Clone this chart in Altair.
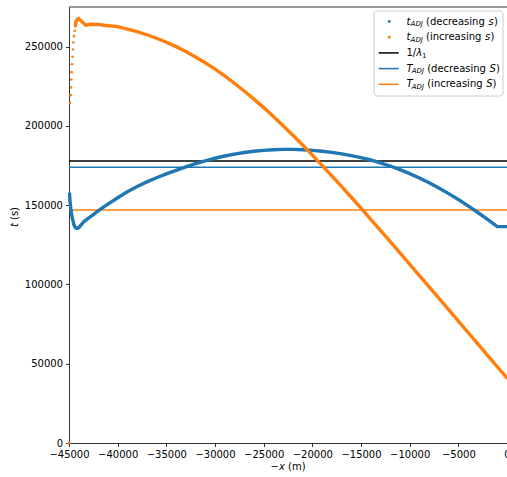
import altair as alt
import pandas as pd

FONT = "DejaVu Sans"
BLUE = "#1f77b4"
ORANGE = "#ff7f0e"

# ---- series: t_ADJ (decreasing s) ----
dec_x = [-44950, -44900, -44830, -44750, -44660, -44500, -44350, -44200, -44000, -43800,
         -43470, -43000, -42500, -42000, -41500, -41000,
         -40000, -39000, -38000, -37000, -36000, -35000, -34000, -33000, -32000, -31000,
         -30000, -29000, -28000, -27000, -26000, -25000, -24000, -23000, -22000, -21000,
         -20000, -19000, -18000, -17000, -16000, -15000, -14000, -13000, -12000, -11000,
         -10000, -9000, -8000, -7000, -6000, -5000, -4000, -3000, -2000, -1000, 0]
dec_t = [157500, 153000, 148500, 145000, 142000, 137800, 135800, 135400, 135800, 137200,
         139600, 141800, 144000, 146400, 148600, 150700,
         154700, 158500, 161800, 164700, 167300, 169700, 172000, 174200, 176200, 178000,
         179600, 181000, 182200, 183200, 184000, 184600, 185000, 185200, 185200, 185000,
         184600, 184000, 183300, 182400, 181300, 180000, 178500, 176700, 174700, 172400,
         169900, 167100, 164100, 160800, 157300, 153600, 149600, 145400, 141000, 136500, 136500]

# ---- series: t_ADJ (increasing s) ----
inc_x = [-45000, -44900, -44830, -44800, -44770, -44730, -44690, -44630, -44590, -44560,
         -44490, -44420, -44350, -44290, -44150, -44010, -43640, -43270, -42790, -42000, -41420,
         -40000, -39000, -38000, -37000, -36000, -35000, -34000, -33000, -32000, -31000,
         -30000, -29000, -28000, -27000, -26000, -25000, -24000, -23000, -22000, -21000,
         -20000, -19000, -18000, -17000, -16000, -15000, -14000, -13000, -12000, -11000,
         -10000, -9000, -8000, -7000, -6000, -5000, -4000, -3000, -2000, -1000, 0]
inc_t = [0, 214600, 219400, 224300, 229300, 233900, 238900, 243600, 248200, 252600,
         256600, 260000, 262900, 265600, 267300, 267700, 265600, 263500, 264100, 264000, 263500,
         262600, 261100, 259400, 257500, 255300, 252800, 250000, 246900, 243500, 239800,
         235800, 231500, 226900, 222000, 216900, 211550, 205950, 200150, 194150, 187950,
         181600, 175100, 168500, 161800, 155000, 148100, 141100, 134050, 126950, 119850,
         112750, 105600, 98450, 91300, 84100, 76900, 69700, 62500, 55300, 48100, 40900]

# ---- horizontal reference levels ----
h_names = ["1/lambda_1", "T_ADJ (decreasing S)", "T_ADJ (increasing S)"]
h_values = [177800, 174000, 147000]
h_colors = ["black", BLUE, ORANGE]

series_names = ["dec", "inc"]
series_colors = [BLUE, ORANGE]

x_ticks = [-45000, -40000, -35000, -30000, -25000, -20000, -15000, -10000, -5000, 0]
y_ticks = [0, 50000, 100000, 150000, 200000, 250000]

df = pd.concat([
    pd.DataFrame({"x": dec_x, "t": dec_t, "series": "dec"}),
    pd.DataFrame({"x": inc_x, "t": inc_t, "series": "inc"}),
], ignore_index=True)
hdf = pd.DataFrame({"name": h_names, "t": h_values, "c": h_colors})
one = pd.DataFrame({"k": [0]})

W, H = 438, 436

xsc = alt.Scale(domain=[-45000, 0], nice=False, zero=False)
ysc = alt.Scale(domain=[0, 275000], nice=False)
xax = alt.Axis(values=x_ticks, format="d", title=None, grid=False,
               labelFlush=False, labelOverlap=False)
yax = alt.Axis(values=y_ticks, format="d", title=None, grid=False, labelOverlap=False)

X = alt.X("x:Q", scale=xsc, axis=xax)
Y = alt.Y("t:Q", scale=ysc, axis=yax)
C = alt.Color("series:N", scale=alt.Scale(domain=series_names, range=series_colors), legend=None)

rules = alt.Chart(hdf).mark_rule(strokeWidth=1.5).encode(
    y=Y, stroke=alt.Stroke("c:N", scale=None))

lines = alt.Chart(df).transform_filter(
    "datum.series == 'dec' || datum.x > -44400"
).mark_line(strokeWidth=3.4).encode(x=X, y=Y, color=C, detail="series:N")

pts = alt.Chart(df).mark_circle(size=7, opacity=1).encode(x=X, y=Y, color=C)

top_spine = alt.Chart(one).mark_rule(color="black", strokeWidth=0.8).encode(
    x=alt.value(0), x2=alt.value(W), y=alt.value(0))


def txt(s, px, py, size=10, italic=False, angle=0):
    return alt.Chart(one).mark_text(
        text=s, font=FONT, fontSize=size, fontStyle="italic" if italic else "normal",
        align="left", baseline="middle", angle=angle, color="black"
    ).encode(x=alt.value(px), y=alt.value(py))


# legend (matplotlib-style box)
box = alt.Chart(one).mark_rect(
    fill="white", fillOpacity=0.8, stroke="#cccccc", strokeWidth=1, cornerRadius=3
).encode(x=alt.value(305), x2=alt.value(434), y=alt.value(4), y2=alt.value(89))

rows = [14.5, 30.2, 45.9, 61.6, 77.3]
sym = []
sym.append(alt.Chart(one).mark_circle(size=8, opacity=1, color=BLUE).encode(
    x=alt.value(320.3), y=alt.value(rows[0])))
sym.append(alt.Chart(one).mark_circle(size=8, opacity=1, color=ORANGE).encode(
    x=alt.value(320.3), y=alt.value(rows[1])))
for r, c in zip(rows[2:], h_colors):
    sym.append(alt.Chart(one).mark_rule(color=c, strokeWidth=1.5).encode(
        x=alt.value(309.7), x2=alt.value(329.7), y=alt.value(r)))

sub = 7
ltxt = [
    txt("t", 337.5, rows[0], italic=True), txt("ADJ", 341.6, rows[0] + 2.8, size=sub, italic=True),
    txt("(decreasing", 357.0, rows[0]), txt("s", 419.6, rows[0], italic=True), txt(")", 425.0, rows[0]),
    txt("t", 337.5, rows[1], italic=True), txt("ADJ", 341.6, rows[1] + 2.8, size=sub, italic=True),
    txt("(increasing", 357.0, rows[1]), txt("s", 416.0, rows[1], italic=True), txt(")", 421.4, rows[1]),
    txt("1/", 337.5, rows[2]), txt("λ", 347.2, rows[2], italic=True),
    txt("1", 353.1, rows[2] + 2.8, size=sub),
    txt("T", 337.5, rows[3], italic=True), txt("ADJ", 342.8, rows[3] + 2.8, size=sub, italic=True),
    txt("(decreasing", 358.2, rows[3]), txt("S", 420.6, rows[3], italic=True), txt(")", 427.0, rows[3]),
    txt("T", 337.5, rows[4], italic=True), txt("ADJ", 342.8, rows[4] + 2.8, size=sub, italic=True),
    txt("(increasing", 358.2, rows[4]), txt("S", 417.2, rows[4], italic=True), txt(")", 423.6, rows[4]),
]

# axis titles
titles = [
    txt("−", 201.5, 459.7), txt("x", 209.9, 459.7, italic=True),
    txt("(m)", 219.0, 459.7),
    txt("t", -54, 220.0, italic=True, angle=270),
    txt("(s)", -54, 213.0, angle=270),
]

chart = alt.layer(rules, lines, pts, top_spine, box, *sym, *ltxt, *titles).properties(
    width=W, height=H,
    autosize=alt.AutoSizeParams(type="none"),
    padding={"left": 69, "top": 7, "right": 0, "bottom": 34},
).configure_view(stroke=None).configure_axis(
    domainColor="black", domainWidth=0.8, tickColor="black", tickWidth=0.8, tickSize=3.5,
    labelPadding=3, labelFont=FONT, labelFontSize=10, labelColor="black",
)

chart.save("out.html", embed_options={"renderer": "svg", "actions": False})
